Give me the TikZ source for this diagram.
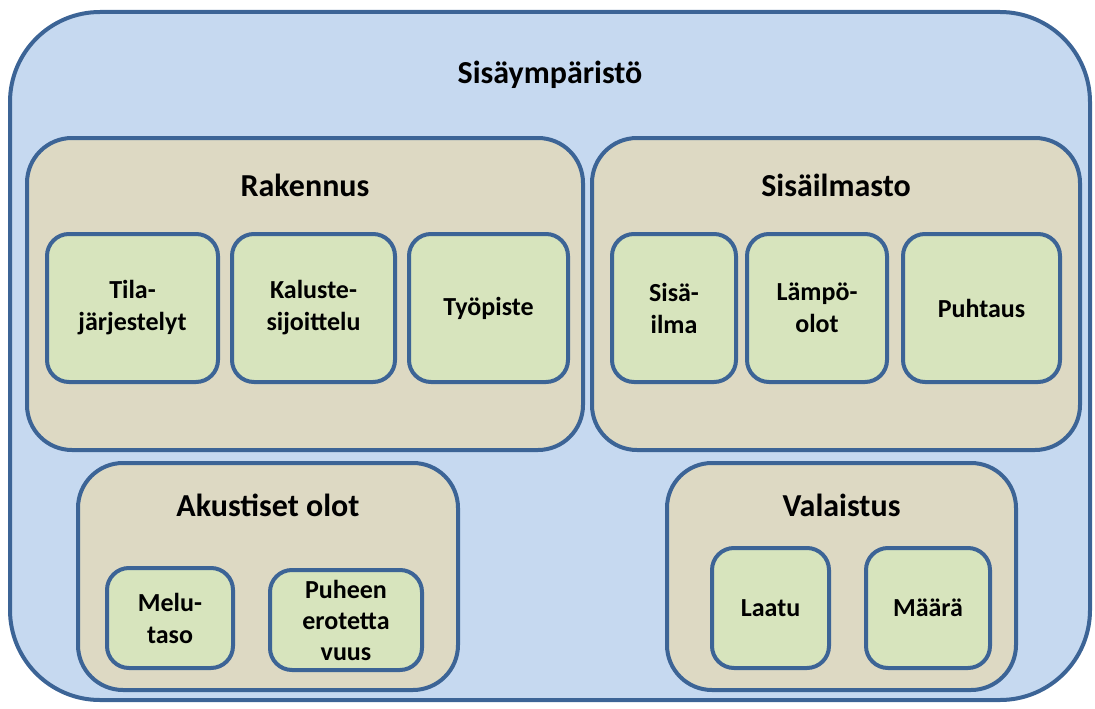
\documentclass[tikz,border=0pt]{standalone}
\usepackage{fontspec}
\setmainfont{Carlito}
\usepackage{xcolor}
\usepackage{tikz}

\definecolor{boxline}{RGB}{60,100,150}
\definecolor{outerfill}{RGB}{198,217,240}
\definecolor{groupfill}{RGB}{221,217,195}
\definecolor{itemfill}{RGB}{215,228,189}

\tikzset{
  outerbox/.style={draw=boxline, line width=4pt, fill=outerfill, rounded corners=90pt},
  groupbox/.style={draw=boxline, line width=4pt, fill=groupfill, rounded corners=45pt},
  itembox/.style={draw=boxline, line width=4pt, fill=itemfill, rounded corners=22pt,
    align=center, font=\fontsize{26}{32}\selectfont\bfseries},
  grouptitle/.style={font=\fontsize{32}{38}\selectfont\bfseries}
}

\begin{document}
\begin{tikzpicture}[x=1pt, y=-1pt]
                \useasboundingbox (0,0) rectangle (1095,709);
                \node[outerbox, minimum width=1080, minimum height=688] (ymp) at (550,356) {};
                \node[grouptitle] (ympt) at (550,75) {Sisäympäristö};
                % rakennus ja sisailmasto
                \node[groupbox, minimum width=556, minimum height=312] (rak) at (305,294) {};
                \node[grouptitle] (rakt) at (305,185) {Rakennus};
                \node[groupbox, minimum width=488, minimum height=312] (sis) at (836,294) {};
                \node[grouptitle] (sist) at (836,185) {Sisäilmasto};
                \node[itembox, minimum width=171, minimum height=148] (tila) at (132.5,308) {Tila-\\järjestelyt};
                \node[itembox, minimum width=163, minimum height=148] (kal) at (313.5,308) {Kaluste-\\sijoittelu};
                \node[itembox, minimum width=159, minimum height=148] (tyo) at (488.5,308) {Työpiste};
                \node[itembox, minimum width=124, minimum height=148] (sisa) at (674,308) {Sisä-\\ilma};
                \node[itembox, minimum width=140, minimum height=148] (lampo) at (817,308) {Lämpö-\\olot};
                \node[itembox, minimum width=157, minimum height=148] (puh) at (981.5,308) {Puhtaus};
                % akustiikka ja valaistus
                \node[groupbox, minimum width=380, minimum height=227] (aku) at (268,576.5) {};
                \node[grouptitle] (akut) at (268,505) {Akustiset olot};
                \node[groupbox, minimum width=349, minimum height=227] (val) at (841.5,576.5) {};
                \node[grouptitle] (valt) at (841.5,505) {Valaistus};
                \node[itembox, minimum width=126, minimum height=100] (melu) at (170,618) {Melu-\\taso};
                \node[itembox, minimum width=152, minimum height=100, font=\fontsize{26}{31}\selectfont\bfseries] (puheen) at (346,620) {Puheen\\erotetta\\vuus};
                \node[itembox, minimum width=117, minimum height=120] (laatu) at (770.5,608) {Laatu};
                \node[itembox, minimum width=124, minimum height=120] (maara) at (928,608) {Määrä};
            \end{tikzpicture}
\end{document}
